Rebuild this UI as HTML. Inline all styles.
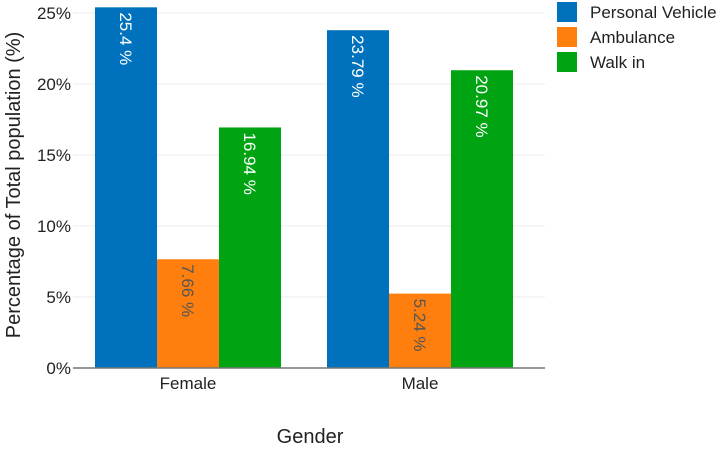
<!DOCTYPE html>
<html><head><meta charset="utf-8"><style>body{margin:0;background:#fff}svg{font-family:"Liberation Sans",Arial,sans-serif}</style></head><body>
<svg id="c" width="726" height="446"></svg>
<script>
const categories=["Female","Male"];
const seriesNames=["Personal Vehicle","Ambulance","Walk in"];
const personal=[25.4,23.79];
const ambulance=[7.66,5.24];
const walkin=[16.94,20.97];
const labels=[["25.4 %","23.79 %"],["7.66 %","5.24 %"],["16.94 %","20.97 %"]];
const ticks=[0,5,10,15,20,25];
const colors=["#0072BD","#FF7F0E","#00A412"];
const textCol=["#fff","#555","#fff"];
const svg=document.getElementById('c');const NS="http://www.w3.org/2000/svg";
function mk(t,a,p){const e=document.createElementNS(NS,t);for(const k in a)e.setAttribute(k,a[k]);(p||svg).appendChild(e);return e;}
const y0=368,pxPer=14.2;
const y=v=>y0-v*pxPer;
const groupCenter=[188,420],bw=62;
ticks.forEach(t=>{
 const g=mk('line',{x1:73,x2:545,y1:y(t),y2:y(t),stroke:'#eee','stroke-width':1});
 
 
 const tx=mk('text',{x:71,y:y(t)+6,'text-anchor':'end','font-size':17,fill:'#222'});tx.textContent=t+'%';
 
 
});
const series=[personal,ambulance,walkin];
series.forEach((s,si)=>{s.forEach((v,ci)=>{
 const x=groupCenter[ci]-1.5*bw+si*bw;
 const r=mk('rect',{x:x,y:y(v),width:bw,height:y0-y(v),fill:colors[si]});
 
 
 const cx=x+bw/2-6,ty=y(v)+5;
 const t=mk('text',{x:0,y:0,transform:`translate(${cx},${ty}) rotate(90)`,'font-size':17,fill:textCol[si]});
 t.textContent=labels[si][ci];
 
 
});});
const ax=mk('line',{x1:73,x2:545,y1:y0,y2:y0,stroke:'#777','stroke-width':1.5});


categories.forEach((c,i)=>{const t=mk('text',{x:groupCenter[i],y:389,'text-anchor':'middle','font-size':17,fill:'#222'});t.textContent=c;
 
 });
const xt=mk('text',{x:310,y:443,'text-anchor':'middle','font-size':20,fill:'#222'});xt.textContent='Gender';


const yt=mk('text',{x:0,y:0,transform:'translate(20,185) rotate(-90)','text-anchor':'middle','font-size':20,fill:'#222'});yt.textContent='Percentage of Total population (%)';


seriesNames.forEach((n,i)=>{const yy=2+i*25;
 const r=mk('rect',{x:557,y:yy,width:20,height:20,fill:colors[i]});
 
 
 const t=mk('text',{x:590,y:yy+16,'font-size':17,fill:'#222'});t.textContent=n;
 
 });
</script></body></html>
